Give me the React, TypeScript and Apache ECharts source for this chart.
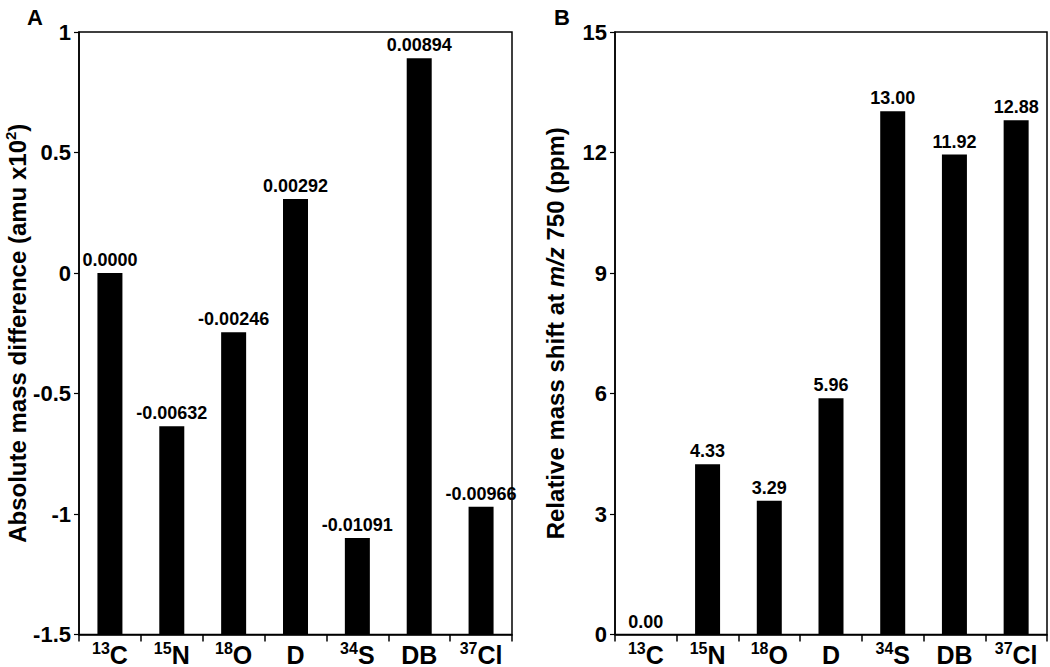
import React, { useEffect, useRef } from "react";
import * as echarts from "echarts";

const categories = ["13C", "15N", "18O", "D", "34S", "DB", "37Cl"];
const catSup = ["13", "15", "18", "", "34", "", "37"];
const catBase = ["C", "N", "O", "D", "S", "DB", "Cl"];
const absValues = [0, -0.636, -0.246, 0.307, -1.1, 0.891, -0.97];
const absLabels = ["0.0000", "-0.00632", "-0.00246", "0.00292", "-0.01091", "0.00894", "-0.00966"];
const relValues = [0, 4.24, 3.33, 5.88, 13.03, 11.95, 12.8];
const relLabels = ["0.00", "4.33", "3.29", "5.96", "13.00", "11.92", "12.88"];
const absMin = -1.5;
const absMax = 1;
const absStep = 0.5;
const relMin = 0;
const relMax = 15;
const relStep = 3;

const FONT = "'Liberation Sans', Arial, Helvetica, sans-serif";

export default function App() {
  const ref = useRef<HTMLDivElement>(null);
  useEffect(() => {
    if (!ref.current) return;
    const chart = echarts.init(ref.current, undefined, { renderer: "svg" });
    const catAxis = (gridIndex: number) => ({
      type: "category",
      gridIndex,
      data: categories,
      axisLine: { onZero: false, lineStyle: { color: "#000", width: 1.5 } },
      axisTick: { show: true, length: 7, lineStyle: { color: "#000", width: 1.5 } },
      axisLabel: {
        interval: 0,
        margin: 6,
        color: "#000",
        fontFamily: FONT,
        formatter: (_v: string, i: number) =>
          catSup[i] ? `{s|${catSup[i]}}{b|${catBase[i]}}` : `{b|${catBase[i]}}`,
        rich: {
          s: { fontSize: 16, fontWeight: "bold", fontFamily: FONT, color: "#000", verticalAlign: "top", lineHeight: 28 },
          b: { fontSize: 25, fontWeight: "bold", fontFamily: FONT, color: "#000", lineHeight: 28 },
        },
      },
    });
    const valAxisBase = {
      type: "value",
      axisLine: { show: true, onZero: false, lineStyle: { color: "#000", width: 1.5 } },
      axisTick: { show: true, length: 5, lineStyle: { color: "#000", width: 1.2 } },
      splitLine: { show: false },
      axisLabel: { color: "#000", fontSize: 22, fontWeight: "bold", fontFamily: FONT, margin: 8 },
      nameLocation: "middle",
      nameRotate: 90,
    };
    const barSeries = (idx: number, values: number[], labels: string[], base: number) => ({
      type: "custom",
      xAxisIndex: idx,
      yAxisIndex: idx,
      data: values.map((v, i) => [i, v]),
      encode: { x: 0, y: 1 },
      renderItem: (params: any, api: any) => {
        const i = api.value(0);
        const v = api.value(1);
        const top = api.coord([i, v]);
        const bottom = api.coord([i, base]);
        const w = 25;
        return {
          type: "group",
          children: [
            {
              type: "rect",
              shape: { x: top[0] - w / 2, y: top[1], width: w, height: bottom[1] - top[1] },
              style: { fill: "#000" },
            },
            {
              type: "text",
              x: top[0],
              y: top[1] - 4,
              style: {
                text: labels[params.dataIndex],
                fill: "#000",
                font: `bold 18px ${FONT}`,
                align: "center",
                verticalAlign: "bottom",
              },
            },
          ],
        };
      },
    });
    chart.setOption({
      animation: false,
      backgroundColor: "#fff",
      title: [
        { text: "A", left: 22, top: 1, textStyle: { fontSize: 22, fontWeight: "bold", fontFamily: FONT, color: "#000" } },
        { text: "B", left: 549, top: 1, textStyle: { fontSize: 22, fontWeight: "bold", fontFamily: FONT, color: "#000" } },
      ],
      grid: [
        { left: 79, top: 32, width: 433, height: 604, show: true, borderColor: "#000", borderWidth: 1.5 },
        { left: 615, top: 32, width: 432, height: 604, show: true, borderColor: "#000", borderWidth: 1.5 },
      ],
      xAxis: [catAxis(0), catAxis(1)],
      yAxis: [
        {
          ...valAxisBase,
          gridIndex: 0,
          min: absMin,
          max: absMax,
          interval: absStep,
          name: "{n|Absolute mass difference (amu x10}{s|2}{n|)}",
          nameGap: 41,
          nameTextStyle: {
            rich: {
              n: { fontSize: 24, fontWeight: "bold", fontFamily: FONT, color: "#000", lineHeight: 28 },
              s: { fontSize: 15, fontWeight: "bold", fontFamily: FONT, color: "#000", verticalAlign: "top", lineHeight: 28 },
            },
          },
        },
        {
          ...valAxisBase,
          gridIndex: 1,
          min: relMin,
          max: relMax,
          interval: relStep,
          name: "{n|Relative mass shift at }{i|m/z}{n| 750 (ppm)}",
          nameGap: 46,
          nameTextStyle: {
            rich: {
              n: { fontSize: 24, fontWeight: "bold", fontFamily: FONT, color: "#000", lineHeight: 28 },
              i: { fontSize: 24, fontWeight: "bold", fontStyle: "italic", fontFamily: FONT, color: "#000", lineHeight: 28 },
            },
          },
        },
      ],
      series: [
        barSeries(0, absValues, absLabels, absMin),
        barSeries(1, relValues, relLabels, relMin),
      ],
    });
    return () => chart.dispose();
  }, []);
  return <div ref={ref} style={{ position: "absolute", left: 0, top: 0, width: 1050, height: 667 }} />;
}
